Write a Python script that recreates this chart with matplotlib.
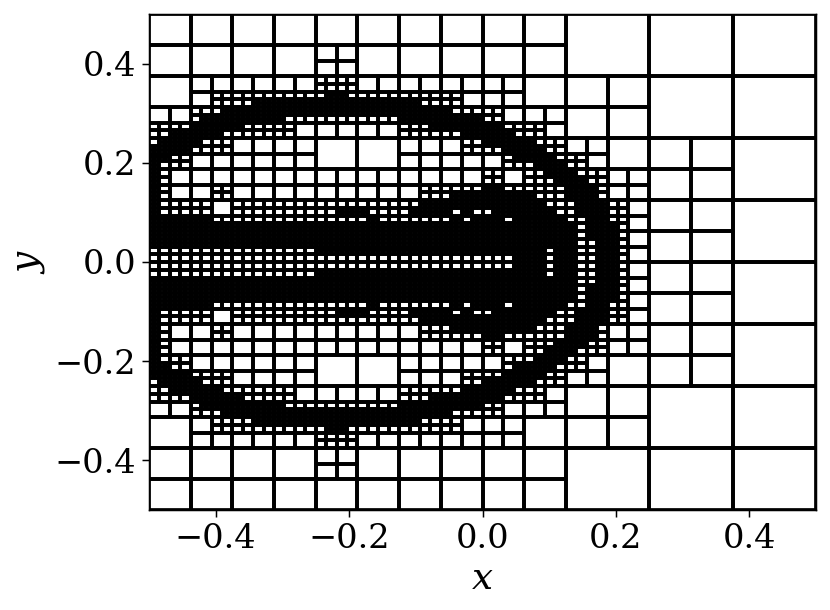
import matplotlib
matplotlib.use("Agg")
import matplotlib.pyplot as plt
from matplotlib.collections import LineCollection

# Leaf refinement level of every 1/64 cell in the upper half of the domain.
# Each row is run-length coded as "<count>x<level>", left to right, top to bottom.
UPPER_ROWS = [
    "40x4 24x3", "40x4 24x3", "40x4 24x3", "40x4 24x3",
    "16x4 4x5 20x4 24x3", "16x4 4x5 20x4 24x3",
    "16x4 4x5 20x4 24x3", "16x4 4x5 20x4 24x3",
    "4x4 12x5 4x6 16x5 12x4 16x3",
    "4x4 12x5 4x6 16x5 12x4 16x3",
    "4x4 2x5 11x6 2x7 11x6 6x5 12x4 16x3",
    "4x4 2x5 4x6 16x7 4x6 6x5 12x4 16x3",
    "4x5 3x6 22x7 5x6 6x5 8x4 16x3",
    "4x5 1x6 8x7 11x6 8x7 2x6 6x5 8x4 16x3",
    "4x6 5x7 5x6 10x5 3x6 7x7 4x6 2x5 8x4 16x3",
    "2x6 5x7 7x6 10x5 6x6 5x7 3x6 2x5 8x4 16x3",
    "1x6 4x7 3x6 8x5 8x4 6x5 2x6 5x7 3x6 4x5 12x4 8x3",
    "4x7 4x6 8x5 8x4 6x5 4x6 4x7 2x6 4x5 12x4 8x3",
    "2x7 2x6 12x5 8x4 10x5 1x6 4x7 3x6 2x5 12x4 8x3",
    "1x7 3x6 12x5 8x4 10x5 3x6 3x7 2x6 2x5 12x4 8x3",
    "1x7 1x6 30x5 2x6 2x5 2x6 3x7 3x6 4x5 8x4 8x3",
    "1x7 1x6 30x5 2x6 2x5 3x6 3x7 2x6 4x5 8x4 8x3",
    "1x7 1x6 4x5 2x6 18x5 6x6 2x7 6x6 3x7 1x6 4x5 8x4 8x3",
    "1x7 1x6 4x5 2x6 18x5 3x6 8x7 3x6 3x7 1x6 4x5 8x4 8x3",
    "1x7 5x6 2x5 18x6 12x7 3x6 3x7 2x6 2x5 8x4 8x3",
    "1x7 5x6 2x5 10x6 3x7 4x6 4x7 1x6 1x7 2x6 6x7 2x6 3x7 2x6 2x5 8x4 8x3",
    "6x7 15x6 1x7 7x6 1x7 1x6 3x7 1x6 5x7 2x6 2x7 2x6 2x5 8x4 8x3",
    "41x7 1x6 3x7 1x6 2x5 8x4 8x3",
    "41x7 1x6 3x7 1x6 2x5 8x4 8x3",
    "41x7 2x6 2x7 1x6 2x5 8x4 8x3",
    "16x6 22x7 1x6 2x7 2x6 2x7 1x6 2x5 8x4 8x3",
    "35x6 3x7 1x6 2x7 2x6 2x7 1x6 2x5 8x4 8x3",
]
X_TICKS = [-0.4, -0.2, 0.0, 0.2, 0.4]
Y_TICKS = [-0.4, -0.2, 0.0, 0.2, 0.4]
X_LABEL = "$x$"
Y_LABEL = "$y$"


def decode(row):
    out = []
    for run in row.split():
        count, level = run.split("x")
        out += [int(level)] * int(count)
    assert len(out) == 64, row
    return out


grid = [decode(r) for r in UPPER_ROWS + UPPER_ROWS[::-1]]


def add_cell(i, j, size, segs):
    x0, x1 = -0.5 + i / 64, -0.5 + (i + size) / 64
    y1, y0 = 0.5 - j / 64, 0.5 - (j + size) / 64
    segs.append([(x0, y0), (x1, y0), (x1, y1), (x0, y1), (x0, y0)])


def collect(i, j, level, segs):
    """Split a cell until the finest leaf level inside it is reached."""
    size = 2 ** (6 - level)
    finest = max(max(r[i:i + size]) for r in grid[j:j + size])
    if finest <= level:
        add_cell(i, j, size, segs)
    elif level == 6:
        for a in (0, 0.5):
            for b in (0, 0.5):
                add_cell(i + a, j + b, 0.5, segs)
    else:
        half = size // 2
        for a in (0, half):
            for b in (0, half):
                collect(i + a, j + b, level + 1, segs)


segments = []
collect(0, 0, 0, segments)

plt.rcParams["font.family"] = "DejaVu Serif"
plt.rcParams["mathtext.fontset"] = "dejavuserif"

DPI = 134.4
fig = plt.figure(figsize=(830 / DPI, 610 / DPI), dpi=DPI)
ax = fig.add_axes([149 / 830, 100 / 610, 667 / 830, 496 / 610])
ax.add_collection(LineCollection(segments, colors="black", linewidths=2.0))
ax.set_xlim(-0.5, 0.5)
ax.set_ylim(-0.5, 0.5)
ax.set_xticks(X_TICKS)
ax.set_yticks(Y_TICKS)
ax.tick_params(labelsize=18)
ax.set_xlabel(X_LABEL, fontsize=20, labelpad=3)
ax.set_ylabel(Y_LABEL, fontsize=20, labelpad=4)
fig.savefig("out.png", dpi=DPI)
